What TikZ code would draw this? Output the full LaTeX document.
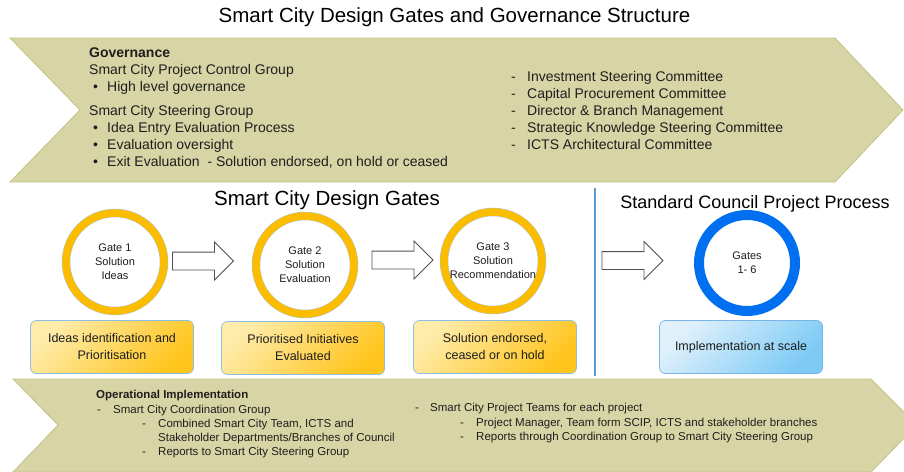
\documentclass[tikz,border=0pt]{standalone}
\usepackage{fontspec}
\setmainfont{Liberation Sans}
\usetikzlibrary{shapes.arrows}

\definecolor{bandfill}{RGB}{215,213,165}
\definecolor{bandedge}{RGB}{196,194,132}
\definecolor{gold}{RGB}{252,188,0}
\definecolor{ringedge}{RGB}{170,200,225}
\definecolor{ringblue}{RGB}{0,112,240}
\definecolor{goldlight}{RGB}{255,236,170}
\definecolor{golddark}{RGB}{255,196,30}
\definecolor{boxedge}{RGB}{140,190,225}
\definecolor{bluelight}{RGB}{225,241,252}
\definecolor{bluedark}{RGB}{125,202,245}
\definecolor{blueedge}{RGB}{120,180,230}
\definecolor{divider}{RGB}{91,155,213}
\definecolor{arrowgray}{RGB}{80,80,80}
\definecolor{txt}{RGB}{30,30,30}

\begin{document}
\begin{tikzpicture}[x=1pt, y=-1pt,
    band/.style={fill=bandfill, draw=bandedge, line width=0.8pt},
    gate/.style={circle, minimum size=98pt, inner sep=0, draw=ringedge, line width=0.5pt,
        double=gold, double distance=7.5pt, fill=white, align=center,
        font=\fontsize{11}{14}\selectfont, text=txt},
    councilgate/.style={circle, minimum size=96pt, inner sep=0, draw=ringblue, line width=10pt,
        fill=white, align=center, font=\fontsize{11}{14}\selectfont, text=txt},
    hollow/.style={single arrow, draw=arrowgray, fill=white, line width=0.8pt, minimum height=61pt,
        text height=17pt, text depth=0pt, single arrow head extend=10pt, inner sep=0},
    goldbox/.style={rounded corners=6pt, draw=boxedge, line width=0.8pt, top color=goldlight,
        bottom color=golddark, shading angle=45, minimum width=163pt, minimum height=53pt,
        align=center, font=\fontsize{12.5}{17}\selectfont, text=txt},
    bluebox/.style={goldbox, draw=blueedge, top color=bluelight, bottom color=bluedark, shading angle=45},
    govtext/.style={font=\fontsize{14}{17}\selectfont, anchor=base west, inner sep=0, text=txt},
    optext/.style={font=\fontsize{11.5}{14}\selectfont, anchor=base west, inner sep=0, text=txt}]

    \useasboundingbox (0,0) rectangle (904,471);
    \clip (0,0) rectangle (904,471);

    \node[anchor=base, font=\fontsize{20.5}{24}\selectfont] (title) at (454.5,23) {Smart City Design Gates and Governance Structure};

    \draw[band] (10,38) -- (835,38) -- (903,110) -- (835,182) -- (10,182) -- (80,110) -- cycle;
    \node[govtext, font=\fontsize{14}{17}\selectfont\bfseries] (govhead) at (89,57) {Governance};
    \node[govtext] (pcg) at (89,74) {Smart City Project Control Group};
    \node[govtext] (pcg1) at (93,91) {\makebox[14pt][l]{\textbullet}High level governance};
    \node[govtext] (scsg) at (89,115) {Smart City Steering Group};
    \node[govtext] (scsg1) at (93,132) {\makebox[14pt][l]{\textbullet}Idea Entry Evaluation Process};
    \node[govtext] (scsg2) at (93,149) {\makebox[14pt][l]{\textbullet}Evaluation oversight};
    \node[govtext] (scsg3) at (93,166) {\makebox[14pt][l]{\textbullet}Exit Evaluation\ \ - Solution endorsed, on hold or ceased};

    \node[govtext] (com1) at (511,81) {\makebox[16pt][l]{-}Investment Steering Committee};
    \node[govtext] (com2) at (511,98) {\makebox[16pt][l]{-}Capital Procurement Committee};
    \node[govtext] (com3) at (511,115) {\makebox[16pt][l]{-}Director \& Branch Management};
    \node[govtext] (com4) at (511,132) {\makebox[16pt][l]{-}Strategic Knowledge Steering Committee};
    \node[govtext] (com5) at (511,149) {\makebox[16pt][l]{-}ICTS Architectural Committee};

    \node[anchor=base, font=\fontsize{20.5}{24}\selectfont] (designtitle) at (327,205) {Smart City Design Gates};
    \node[anchor=base, font=\fontsize{18}{22}\selectfont] (counciltitle) at (755,208) {Standard Council Project Process};
    \draw[divider, line width=2.5pt] (595,188) -- (595,376);

    \node[gate] (gate1) at (115,262) {Gate 1\\Solution\\Ideas};
    \node[gate] (gate2) at (305,265) {Gate 2\\Solution\\Evaluation};
    \node[gate] (gate3) at (493,261) {Gate 3\\Solution\\Recommendation};
    \node[councilgate] (gates16) at (747,263) {Gates\\1- 6};

    \node[hollow] (arr1) at (198.5,261) {};
    \node[hollow] (arr2) at (398,260) {};
    \node[hollow] (arr3) at (628,260.5) {};

    \node[goldbox] (ideas) at (112,347) {Ideas identification and\\Prioritisation};
    \node[goldbox] (prior) at (303,348) {Prioritised Initiatives\\Evaluated};
    \node[goldbox] (endorsed) at (495,347) {Solution endorsed,\\ceased or on hold};
    \node[bluebox] (scale) at (741,347) {Implementation at scale};

    \draw[band] (13,379) -- (871,379) -- (917,425) -- (871,472) -- (13,472) -- (58,425) -- cycle;
    \node[optext, font=\fontsize{11.5}{14}\selectfont\bfseries] (ophead) at (96,398) {Operational Implementation};
    \node[optext] (coord) at (97,413) {\makebox[16pt][l]{-}Smart City Coordination Group};
    \node[optext] (coord1) at (142,427) {\makebox[16pt][l]{-}Combined Smart City Team, ICTS and};
    \node[optext] (coord1b) at (158,441) {Stakeholder Departments/Branches of Council};
    \node[optext] (coord2) at (142,455) {\makebox[16pt][l]{-}Reports to Smart City Steering Group};
    \node[optext] (teams) at (415,411) {\makebox[15pt][l]{-}Smart City Project Teams for each project};
    \node[optext] (teams1) at (460,426) {\makebox[16pt][l]{-}Project Manager, Team form SCIP, ICTS and stakeholder branches};
    \node[optext] (teams2) at (460,440) {\makebox[16pt][l]{-}Reports through Coordination Group to Smart City Steering Group};

\end{tikzpicture}
\end{document}
